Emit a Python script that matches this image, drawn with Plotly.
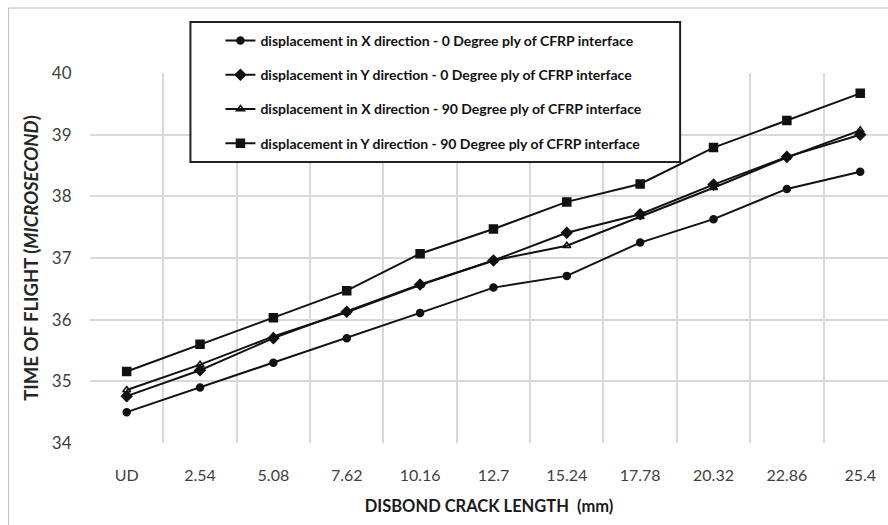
import plotly.graph_objects as go

categories = ["UD", "2.54", "5.08", "7.62", "10.16", "12.7", "15.24", "17.78", "20.32", "22.86", "25.4"]
x_dir_0deg = [34.50, 34.90, 35.30, 35.70, 36.11, 36.52, 36.71, 37.25, 37.63, 38.12, 38.40]
y_dir_0deg = [34.76, 35.18, 35.70, 36.13, 36.57, 36.96, 37.41, 37.71, 38.19, 38.64, 39.00]
x_dir_90deg = [34.86, 35.27, 35.73, 36.12, 36.56, 36.96, 37.20, 37.67, 38.14, 38.63, 39.07]
y_dir_90deg = [35.16, 35.60, 36.03, 36.47, 37.07, 37.47, 37.91, 38.20, 38.79, 39.23, 39.67]

series_names = [
    "displacement in X direction - 0 Degree ply of CFRP interface",
    "displacement in Y direction - 0 Degree ply of CFRP interface",
    "displacement in X direction - 90 Degree ply of CFRP interface",
    "displacement in Y direction - 90 Degree ply of CFRP interface",
]
series_values = [x_dir_0deg, y_dir_0deg, x_dir_90deg, y_dir_90deg]
symbols = ["circle", "diamond", "triangle-up-open", "square"]
sizes = [7, 8, 7, 8]

W, H = 888, 525
L, R, T, B = 89.5, 0, 73, 82
pw = W - L - R
ph = H - T - B

xi = list(range(len(categories)))

fig = go.Figure()
for i, (name, vals) in enumerate(zip(series_names, series_values)):
    fig.add_trace(go.Scatter(
        x=xi, y=vals, name=name, mode="lines+markers",
        line=dict(color="#111111", width=2),
        marker=dict(symbol=symbols[i], size=sizes[i], color="#111111",
                    line=dict(color="#111111", width=1.5)),
        legendgroup=f"g{i}",
    ))

def px_x(p):
    return (p - L) / pw

def px_y(p):
    return (H - B - p) / ph

fig.update_layout(
    width=W, height=H,
    margin=dict(l=L, r=R, t=T, b=B),
    paper_bgcolor="white", plot_bgcolor="white",
    font=dict(family="Lato", color="#404040"),
    showlegend=True,
    legend=dict(
        x=px_x(220), y=px_y(25), xanchor="left", yanchor="top",
        bgcolor="rgba(0,0,0,0)", borderwidth=0,
        font=dict(family="Lato", size=14, color="#111111", weight="bold"),
        tracegroupgap=13, itemwidth=30,
    ),
    xaxis=dict(
        range=[-0.5, -0.5 + pw / 73.4],
        tickmode="array", tickvals=xi, ticktext=categories,
        showgrid=False, zeroline=False, showline=False,
        ticks="outside", ticklen=18, tickcolor="rgba(0,0,0,0)",
        tickfont=dict(family="Lato", size=16, color="#404040"),
        minor=dict(tickvals=[v - 0.5 for v in xi] + [xi[-1] + 0.5],
                   showgrid=True, gridcolor="#d9d9d9", gridwidth=1.5, ticks=""),
        title=dict(text="<b>DISBOND CRACK LENGTH  (mm)</b>",
                   font=dict(family="Lato", size=16.5, color="#1a1a1a"), standoff=17),
        fixedrange=True,
    ),
    yaxis=dict(
        range=[34, 40], tickmode="linear", tick0=34, dtick=1,
        showgrid=True, gridcolor="#d9d9d9", gridwidth=1.5,
        zeroline=False, showline=False,
        ticks="outside", ticklen=14, tickcolor="rgba(0,0,0,0)",
        tickfont=dict(family="Lato", size=17, color="#404040"),
        title=dict(text="<b>TIME OF FLIGHT (<i>MICROSECOND</i>)</b>",
                   font=dict(family="Lato", size=18.5, color="#262626"), standoff=8),
        fixedrange=True,
    ),
    shapes=[
        dict(type="rect", xref="paper", yref="paper",
             x0=px_x(8), x1=px_x(905), y0=px_y(8), y1=px_y(540),
             line=dict(color="#bfbfbf", width=1), fillcolor="rgba(0,0,0,0)", layer="below"),
        dict(type="rect", xref="paper", yref="paper",
             x0=px_x(190), x1=px_x(680), y0=px_y(22), y1=px_y(162),
             line=dict(color="#222222", width=2), fillcolor="white", layer="above"),
    ],
)

fig.write_html("out.html")
